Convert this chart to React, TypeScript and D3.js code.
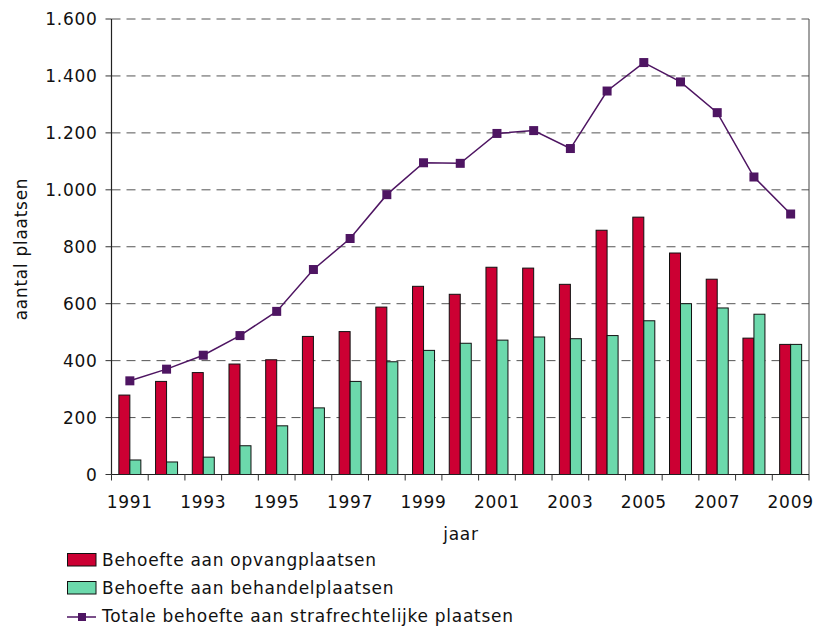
import React from "react";
import * as d3 from "d3";

const years = ["1991","1992","1993","1994","1995","1996","1997","1998","1999","2000","2001","2002","2003","2004","2005","2006","2007","2008","2009"];
const opvang = [279, 327, 358, 388, 403, 485, 502, 588, 661, 633, 728, 725, 668, 858, 904, 778, 686, 479, 457];
const behandel = [51, 44, 61, 101, 171, 234, 327, 396, 436, 461, 472, 483, 477, 488, 540, 600, 585, 563, 457];
const totaal = [329, 370, 419, 488, 573, 720, 829, 983, 1095, 1093, 1198, 1208, 1145, 1347, 1447, 1379, 1271, 1045, 915];
const yTicks = [0, 200, 400, 600, 800, 1000, 1200, 1400, 1600];
const xLabelYears = ["1991","1993","1995","1997","1999","2001","2003","2005","2007","2009"];
const seriesNames = ["Behoefte aan opvangplaatsen", "Behoefte aan behandelplaatsen", "Totale behoefte aan strafrechtelijke plaatsen"];

const RED = "#CC0033";
const GREEN = "#6CD9AC";
const PURPLE = "#4E1562";
const FONT = "DejaVu Sans, Verdana, sans-serif";

export default function App() {
  const W = 816, H = 628;
  const left = 111.5, right = 809, top = 19, bottom = 474.5;
  const x = d3.scaleBand<string>().domain(years).range([left, right]).paddingInner(0).paddingOuter(0);
  const y = d3.scaleLinear().domain([0, 1600]).range([bottom, top]);
  const bw = 11;
  const fmt = (v: number) => d3.format(",")(v).replace(/,/g, ".");
  const line = d3.line<number>().x((_, i) => x(years[i])! + x.bandwidth() / 2).y((d) => y(d));
  const fs = 17;
  const ls = 0.72;
  return (
    <svg width={W} height={H} style={{ position: "absolute", left: 0, top: 0, background: "#fff" }} fontFamily={FONT} letterSpacing={ls}>
      {yTicks.map((t) => (
        <g key={t}>
          {t > 0 && (
            <line x1={left} x2={right} y1={y(t)} y2={y(t)} stroke="#555" strokeWidth={1} strokeDasharray="9,6" />
          )}
          <line x1={left - 6} x2={left} y1={y(t)} y2={y(t)} stroke="#333" strokeWidth={1} />
          <text x={97.5} y={y(t)} dy="0.36em" textAnchor="end" fontSize={fs} fill="#111">{fmt(t)}</text>
        </g>
      ))}
      {years.map((yr, i) => (
        <g key={yr}>
          <rect x={x(yr)! + x.bandwidth() / 2 - bw} y={y(opvang[i])} width={bw} height={bottom - y(opvang[i])} fill={RED} stroke="#111" strokeWidth={1} />
          <rect x={x(yr)! + x.bandwidth() / 2} y={y(behandel[i])} width={bw} height={bottom - y(behandel[i])} fill={GREEN} stroke="#111" strokeWidth={1} />
        </g>
      ))}
      <line x1={right} x2={right} y1={top} y2={bottom} stroke="#444" strokeWidth={1} />
      <line x1={left} x2={left} y1={top} y2={bottom} stroke="#222" strokeWidth={1.2} />
      <line x1={left} x2={right} y1={bottom} y2={bottom} stroke="#222" strokeWidth={1.2} />
      {[...years, "end"].map((yr, i) => {
        const xx = i < years.length ? x(yr)! : right;
        return <line key={"t" + i} x1={xx} x2={xx} y1={bottom} y2={bottom + 6} stroke="#333" strokeWidth={1} />;
      })}
      {xLabelYears.map((yr) => (
        <text key={"l" + yr} x={x(yr)! + x.bandwidth() / 2} y={508} textAnchor="middle" fontSize={fs} fill="#111">{yr}</text>
      ))}
      <path d={line(totaal) || ""} fill="none" stroke={PURPLE} strokeWidth={1.5} />
      {totaal.map((v, i) => (
        <rect key={"m" + i} x={x(years[i])! + x.bandwidth() / 2 - 4.5} y={y(v) - 4.5} width={9} height={9} fill={PURPLE} />
      ))}
      <text x={461} y={540} textAnchor="middle" fontSize={fs} fill="#111">jaar</text>
      <text transform={`translate(${27},${249}) rotate(-90)`} textAnchor="middle" fontSize={fs} fill="#111">aantal plaatsen</text>
      <g>
        <rect x={67.5} y={553.5} width={28.5} height={12.5} fill={RED} stroke="#111" strokeWidth={1} />
        <text x={102} y={566} fontSize={fs} fill="#111">{seriesNames[0]}</text>
        <rect x={67.5} y={581.5} width={28.5} height={12.5} fill={GREEN} stroke="#111" strokeWidth={1} />
        <text x={102} y={594} fontSize={fs} fill="#111">{seriesNames[1]}</text>
        <line x1={67} x2={96} y1={617} y2={617} stroke={PURPLE} strokeWidth={1.5} />
        <rect x={78} y={613} width={8} height={8} fill={PURPLE} />
        <text x={102} y={622} fontSize={fs} fill="#111">{seriesNames[2]}</text>
      </g>
    </svg>
  );
}
